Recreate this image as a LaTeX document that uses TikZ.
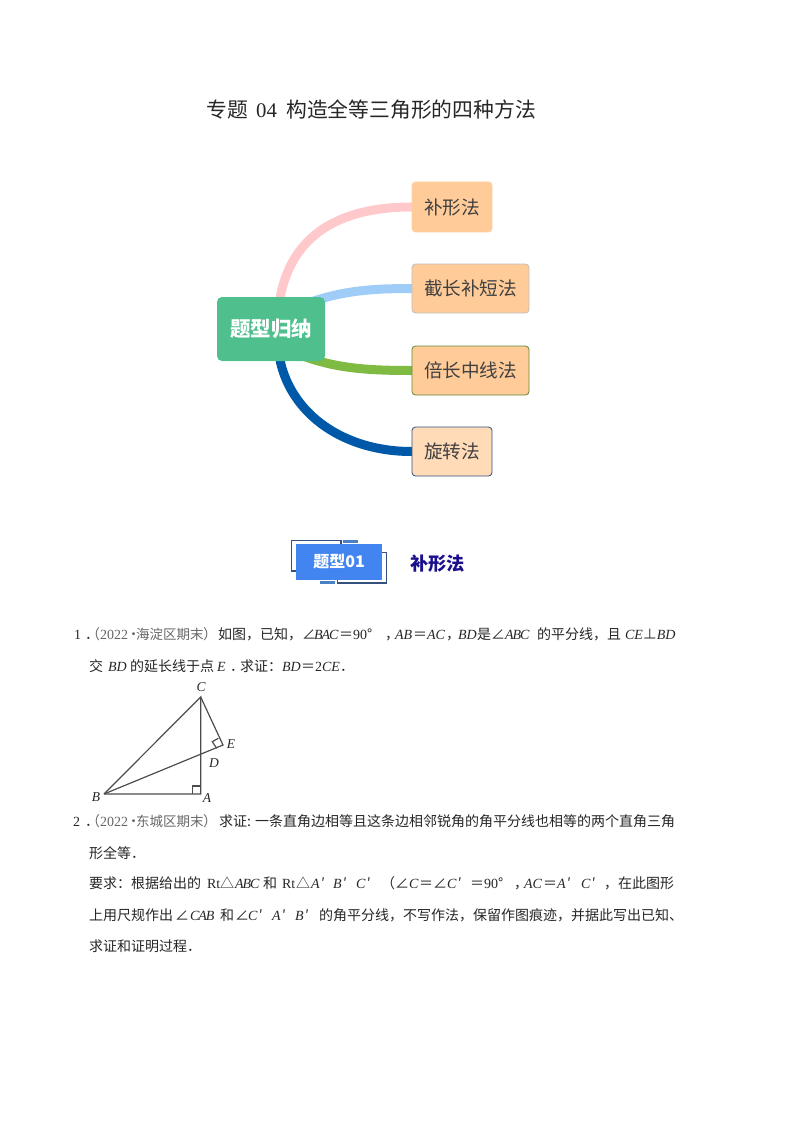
\documentclass[tikz,border=0pt]{standalone}
\usepackage{fontspec}
\setmainfont{Noto Sans CJK SC}
\newfontfamily\lat{Liberation Serif}
\pgfdeclarelayer{bg}
\pgfsetlayers{bg,main}
\newcommand{\iv}[1]{{\lat\itshape\fontsize{14}{14}\selectfont #1}}
\newcommand{\ro}[1]{{\lat #1}}
\definecolor{boxfill}{HTML}{FFCB99}
\definecolor{rootfill}{HTML}{4FC08D}
\definecolor{frame}{HTML}{34507F}
\definecolor{barblue}{HTML}{4A80C4}
\definecolor{bannerblue}{HTML}{4285F0}
\definecolor{navy}{HTML}{1A0F8C}
\definecolor{brpink}{HTML}{FFC9CC}
\definecolor{brblue}{HTML}{9FCDF8}
\definecolor{brgreen}{HTML}{7FBA42}
\definecolor{brnavy}{HTML}{0059A8}
\tikzset{
  x=1pt,y=-1pt,
  txt/.style={anchor=base west,inner sep=0pt,outer sep=0pt,font=\fontsize{14}{14}\selectfont,text=black!85},
  gry/.style={txt,text=black!60},
  ttl/.style={anchor=base west,inner sep=0pt,font=\fontsize{20.8}{22}\selectfont,text=black!85},
  branchbox/.style={rectangle,rounded corners=3.5pt,inner sep=0pt,font=\fontsize{18.6}{20}\selectfont,text=black!75,fill=boxfill,line width=.8pt},
  branch/.style={line width=9pt,line cap=round},
  seglab/.style={anchor=center,inner sep=0pt,font=\lat\itshape\fontsize{13.5}{14}\selectfont,text=black!85},
  fig/.style={draw=black!70,line width=1.2pt},
  frameline/.style={draw=frame,line width=1.1pt},
}
\begin{document}
\begin{tikzpicture}
\useasboundingbox (0,0) rectangle (794,1123);

% title
\node[ttl] (t1) at (206,117.5) {专题};
\node[ttl,font=\lat\fontsize{20.8}{22}\selectfont] (t2) at (256,117.5) {04};
\node[ttl] (t3) at (286,117.5) {构造全等三角形的四种方法};

% mind map
\node[rectangle,rounded corners=5pt,fill=rootfill,minimum width=108pt,minimum height=64pt,inner sep=0pt,font=\bfseries\fontsize{20.5}{22}\selectfont,text=white] (root) at (271,329) {题型归纳};
\node[branchbox,minimum width=80pt,minimum height=50pt,draw=boxfill!90!white] (n1) at (452,207) {补形法};
\node[branchbox,minimum width=117pt,minimum height=49pt,draw=black!25] (n2) at (470.5,288.5) {截长补短法};
\node[branchbox,minimum width=117pt,minimum height=49pt,draw=brgreen!75!black] (n3) at (470.5,370.5) {倍长中线法};
\node[branchbox,minimum width=80pt,minimum height=49pt,fill=boxfill!70!white,draw=frame] (n4) at (452,451.5) {旋转法};
\begin{pgfonlayer}{bg}
\draw[branch,draw=brpink] (root.74) .. controls +(12,-62) and +(-72,0) .. (n1.west);
\draw[branch,draw=brblue] ([shift={(29,-23)}]root.center) .. controls +(38,-15) and +(-42,0) .. (n2.west);
\draw[branch,draw=brgreen] ([shift={(29,26)}]root.center) .. controls +(35,13) and +(-47,0) .. (n3.west);
\draw[branch,draw=brnavy] (root.-74) .. controls +(12,54) and +(-67,0) .. (n4.west);
\end{pgfonlayer}

% banner
\coordinate (fa) at (341,544);
\coordinate (fa2) at (341,540.5);
\coordinate (fb) at (291.5,540.5);
\coordinate (fc) at (291.5,571);
\coordinate (fc2) at (296,571);
\coordinate (fd) at (382,552.5);
\coordinate (fe) at (386.5,552.5);
\coordinate (ff) at (386.5,583);
\coordinate (fg) at (337.5,583);
\coordinate (fh) at (337.5,580);
\draw[frameline] (fa) -- (fa2) -- (fb) -- (fc) -- (fc2);
\draw[frameline] (fd) -- (fe) -- (ff) -- (fg) -- (fh);
\fill[barblue] (343,540) rectangle (358,543);
\fill[barblue] (320,581) rectangle (335,583.5);
\node[rectangle,fill=bannerblue,minimum width=86pt,minimum height=36pt,inner sep=0pt,text=white,font=\bfseries\fontsize{16}{18}\selectfont] (ban) at (339,562) {题型01};
\node[anchor=center,inner sep=0pt,text=navy,font=\bfseries\fontsize{18.2}{20}\selectfont] (bant) at (437.5,564) {补形法};

% question 1
\node[txt] (a1) at (74,639) {\ro{1}};
\node[txt] (a1d) at (85,639) {．};
\node[gry] (a2) at (86,639) {（};
\node[gry] (a2b) at (100,639) {\ro{2022}};
\node[gry] (a2c) at (126.5,639) {•};
\node[gry,font=\fontsize{13.5}{14}\selectfont] (a2d) at (136,639) {海淀区期末};
\node[gry] (a2e) at (203,639) {）};
\node[txt] (a3) at (218,639) {如图，已知，};
\node[txt] (a4) at (302,639) {∠};
\node[txt] (a4b) at (314,639) {\iv{B\kern-1pt A\kern-1pt C}};
\node[txt] (a5) at (339,639) {＝\ro{90}°};
\node[txt] (a6) at (385,639) {，};
\node[txt] (a7) at (395,639) {\iv{AB}};
\node[txt] (a8) at (413,639) {＝};
\node[txt] (a9) at (427,639) {\iv{AC}};
\node[txt] (a10) at (446,639) {，};
\node[txt] (a11) at (458,639) {\iv{BD}};
\node[txt] (a12) at (477,639) {是∠};
\node[txt] (a12b) at (505,639) {\iv{A\kern-1pt B\kern-1pt C}};
\node[txt] (a13) at (537,639) {的平分线，且};
\node[txt] (a14) at (625,639) {\iv{CE}⊥\iv{BD}};

\node[txt] (b1) at (89,671) {交};
\node[txt] (b2) at (108,671) {\iv{BD}};
\node[txt] (b3) at (130,671) {的延长线于点};
\node[txt] (b4) at (217,671) {\iv{E}};
\node[txt] (b4d) at (230,671) {．};
\node[txt] (b5) at (240,671) {求证：};
\node[txt] (b6) at (282,671) {\iv{BD}};
\node[txt] (b7) at (301,671) {＝};
\node[txt] (b8) at (315,671) {\ro{2}\iv{CE}};
\node[txt] (b8d) at (340,671) {．};

% figure
\coordinate (C) at (200.7,697);
\coordinate (A) at (200.7,794);
\coordinate (B) at (104,794);
\coordinate (E) at (223,745);
\draw[fig] (B) -- (C) -- (A) -- (B);
\draw[fig] (B) -- (E) -- (C);
\draw[fig] (192.7,794) -- (192.7,786) -- (200.7,786);
\draw[fig] (218.3,738.3) -- (212.3,741.7) -- (216.7,748.3);
\node[seglab] (lC) at (201,687) {C};
\node[seglab] (lE) at (231,744) {E};
\node[seglab] (lD) at (214,763) {D};
\node[seglab] (lB) at (96,797) {B};
\node[seglab] (lA) at (207,798) {A};

% question 2
\node[txt] (c1) at (73,826) {\ro{2}};
\node[txt] (c1d) at (85,826) {．};
\node[gry] (c2) at (86,826) {（};
\node[gry] (c2b) at (100,826) {\ro{2022}};
\node[gry] (c2c) at (126.5,826) {•};
\node[gry,font=\fontsize{13.5}{14}\selectfont] (c2d) at (136,826) {东城区期末};
\node[gry] (c2e) at (203,826) {）};
\node[txt] (c3) at (219,826) {求证: 一条直角边相等且这条边相邻锐角的角平分线也相等的两个直角三角};

\node[txt] (d1) at (89,858) {形全等．};

\node[txt] (e1) at (89,888) {要求：根据给出的};
\node[txt] (e2) at (207,888) {\ro{Rt}};
\node[txt] (e2b) at (220,888) {△};
\node[txt] (e2c) at (235,888) {\iv{A\kern-1pt B\kern-1pt C}};
\node[txt] (e3) at (263,888) {和};
\node[txt] (e4) at (282,888) {\ro{Rt}};
\node[txt] (e4b) at (296,888) {△};
\node[txt] (e4c) at (311,888) {\iv{A}\kern1.5pt′};
\node[txt] (e5) at (333,888) {\iv{B}\kern1.5pt′};
\node[txt] (e6) at (356,888) {\iv{C}\kern1.5pt′};
\node[txt] (e7) at (381,888) {（};
\node[txt] (e8) at (395,888) {∠\iv{C}};
\node[txt] (e9) at (419,888) {＝∠\iv{C}\kern1.5pt′};
\node[txt] (e10) at (470,888) {＝\ro{90}°};
\node[txt] (e11) at (514,888) {，};
\node[txt] (e12) at (524,888) {\iv{AC}};
\node[txt] (e13) at (543,888) {＝};
\node[txt] (e14) at (557,888) {\iv{A}\kern1.5pt′};
\node[txt] (e15) at (581,888) {\iv{C}\kern1.5pt′};
\node[txt] (e16) at (604,888) {，};
\node[txt] (e17) at (618,888) {在此图形};

\node[txt] (f1) at (89,920) {上用尺规作出};
\node[txt] (f2) at (175,920) {∠};
\node[txt] (f2b) at (190,920) {\iv{C\kern-1pt A\kern-1pt B}};
\node[txt] (f3) at (220,920) {和};
\node[txt] (f4) at (235,920) {∠};
\node[txt] (f4b) at (248,920) {\iv{C}\kern1.5pt′};
\node[txt] (f5) at (272,920) {\iv{A}\kern1.5pt′};
\node[txt] (f6) at (295,920) {\iv{B}\kern1.5pt′};
\node[txt] (f7) at (319,920) {的角平分线，不写作法，保留作图痕迹，并据此写出已知、};

\node[txt] (g1) at (89,951) {求证和证明过程．};
\end{tikzpicture}
\end{document}
